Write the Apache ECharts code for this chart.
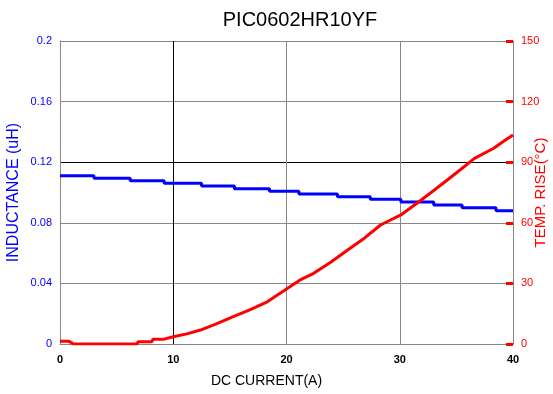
<!DOCTYPE html>
<html><head><meta charset="utf-8">
<script src="https://cdn.jsdelivr.net/npm/echarts@6/dist/echarts.min.js"></script>
<style>html,body{margin:0;padding:0;background:#fff}#c{width:553px;height:394px}</style>
</head><body><div id="c"></div>
<script>
const title = 'PIC0602HR10YF';
const xTicks = [0, 10, 20, 30, 40];
const inductance = [[0,0.1111],[3.0,0.1094],[6.2,0.1078],[9.2,0.1061],[12.5,0.1043],[15.4,0.1025],[18.5,0.1008],[21.1,0.099],[24.5,0.0972],[27.4,0.0955],[30.1,0.0937],[33.0,0.0918],[35.5,0.090],[38.5,0.088],[40,0.088]];
const tempRise = [[0,1.3],[0.8,1.3],[1.2,0],[6.8,0],[6.9,1.1],[8.1,1.1],[8.2,2.3],[9.2,2.4],[10,3.6],[11.2,5.0],[12.4,6.9],[13.8,10.0],[15.3,13.5],[16.8,17.0],[18.3,20.9],[19.5,25.4],[21.2,31.7],[22.4,35],[23.9,40.5],[25.4,46.5],[26.9,52.5],[28.3,58.9],[30.1,63.9],[31.9,71.3],[33.0,76.0],[34.2,81.2],[35.4,86.5],[36.6,91.9],[38.3,96.9],[39.2,100.5],[40,103.5]];

const chart = echarts.init(document.getElementById('c'));
const ff = 'Liberation Sans, Arial, sans-serif';
chart.setOption({
  animation: false,
  title: {text: title, left: 295, textAlign: 'center', top: 5, textStyle: {fontFamily: ff, fontSize: 20, fontWeight: 'normal', color: '#000'}},
  grid: {left: 60, right: 40, top: 41, bottom: 50, containLabel: false, outerBoundsMode: 'none'},
  xAxis: {
    type: 'value', min: 0, max: 40, interval: 10,
    name: 'DC CURRENT(A)', nameLocation: 'middle', nameGap: 30, nameMoveOverlap: false,
    nameTextStyle: {fontFamily: ff, fontSize: 14, color: '#000', padding: [0, 40, 0, 0]},
    axisLine: {lineStyle: {color: '#888'}},
    axisTick: {show: false},
    axisLabel: {color: '#000', fontFamily: ff, fontSize: 11, fontWeight: 'bold', margin: 10},
    splitLine: {show: true, lineStyle: {color: ['#888', '#000', '#888', '#888', '#888']}}
  },
  yAxis: [{
    type: 'value', min: 0, max: 0.2, interval: 0.04, position: 'left',
    name: 'INDUCTANCE (uH)', nameLocation: 'middle', nameGap: 38, nameMoveOverlap: false,
    nameTextStyle: {fontFamily: ff, fontSize: 16, color: '#0000ff'},
    axisLine: {show: true, lineStyle: {color: '#888'}},
    axisTick: {show: false},
    axisLabel: {color: '#0000ff', fontFamily: ff, fontSize: 11, margin: 8, formatter: v => String(+v.toFixed(2))},
    splitLine: {show: true, lineStyle: {color: ['#888', '#888', '#888', '#000', '#888', '#888']}}
  }, {
    type: 'value', min: 0, max: 150, interval: 30, position: 'right',
    name: 'TEMP. RISE(°C)', nameLocation: 'middle', nameGap: 20, nameMoveOverlap: false,
    nameTextStyle: {fontFamily: ff, fontSize: 15, color: '#ff0000'},
    axisLine: {show: true, lineStyle: {color: '#888'}},
    axisTick: {show: true, inside: true, length: 7, lineStyle: {color: '#ff0000', width: 3}},
    axisLabel: {color: '#ff0000', fontFamily: ff, fontSize: 11, margin: 8},
    splitLine: {show: false}
  }],
  series: [{
    type: 'line', yAxisIndex: 0, step: 'end', data: inductance, symbol: 'none',
    lineStyle: {color: '#0000ff', width: 3}
  }, {
    type: 'line', yAxisIndex: 1, data: tempRise, symbol: 'none',
    lineStyle: {color: '#ff0000', width: 3}
  }]
});
</script></body></html>
